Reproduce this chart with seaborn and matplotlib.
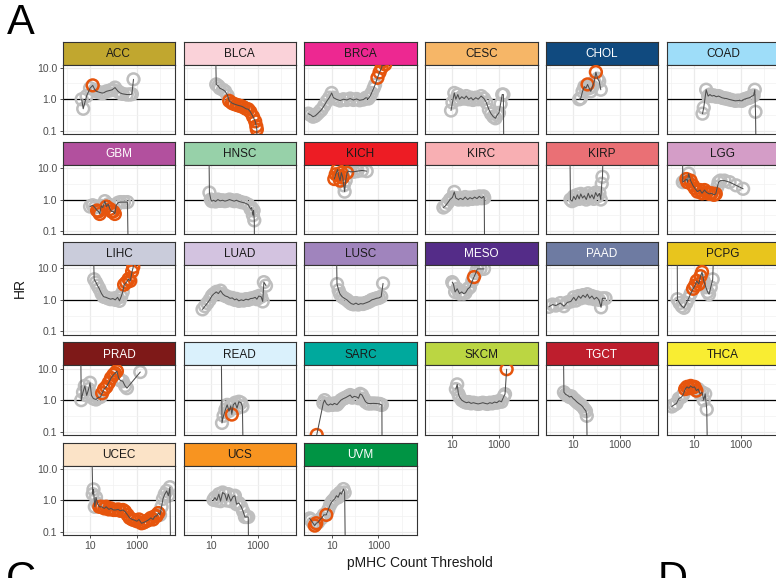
import matplotlib
matplotlib.use("Agg")
import matplotlib.pyplot as plt
from matplotlib.ticker import NullFormatter
import pandas as pd
import seaborn as sns

# ---------------------------------------------------------------- data
CANCERS = ["ACC", "BLCA", "BRCA", "CESC", "CHOL", "COAD",
           "GBM", "HNSC", "KICH", "KIRC", "KIRP", "LGG",
           "LIHC", "LUAD", "LUSC", "MESO", "PAAD", "PCPG",
           "PRAD", "READ", "SARC", "SKCM", "TGCT", "THCA",
           "UCEC", "UCS", "UVM"]

STRIP_COLORS = ["#C1A72F", "#FAD2D9", "#ED2891", "#F6B667", "#104A7F", "#9EDDF9",
                "#B2509E", "#97D1A9", "#ED1C24", "#F8AFB3", "#EA7075", "#D49DC7",
                "#CACCDB", "#D3C3E0", "#A084BD", "#542C88", "#6E7BA2", "#E8C51D",
                "#7E1918", "#DAF1FC", "#00A99D", "#BBD642", "#BE1E2D", "#F9ED32",
                "#FBE3C7", "#F89420", "#009444"]
WHITE_LABELS = ["GBM", "CHOL", "MESO", "PAAD", "PRAD", "TGCT", "UVM"]

ACC_THR = [4.4, 5.1, 7.1, 10, 13, 16, 19, 25, 32, 37, 50, 72, 89, 117, 158, 195, 251, 372, 501, 617, 724]
ACC_HR = [1.0, 0.50, 1.26, 2.24, 2.75, 2.0, 1.78, 1.66, 1.58, 1.58, 1.78, 1.91, 2.0, 2.34, 1.78, 1.58, 1.48, 1.41, 1.41, 1.45, 4.27]
ACC_SIG = [0, 0, 0, 0, 1, 0, 0, 0, 0, 0, 0, 0, 0, 0, 0, 0, 0, 0, 0, 0, 0]

BLCA_THR = [16, 17, 21, 24, 33, 41, 52, 61, 80, 98, 130, 160, 205, 250, 320, 400, 490, 640, 790, 880, 930, 950]
BLCA_HR = [40, 2.95, 2.63, 2.24, 2.0, 1.78, 1.32, 0.89, 0.76, 0.71, 0.66, 0.63, 0.60, 0.56, 0.50, 0.48, 0.40, 0.28, 0.20, 0.14, 0.11, 0.01]
BLCA_SIG = [0, 0, 0, 0, 0, 0, 0, 1, 1, 1, 1, 1, 1, 1, 1, 1, 1, 1, 1, 1, 1, 0]

BRCA_THR = [1, 1.26, 1.6, 2, 2.5, 3.2, 3.7, 4.8, 6.2, 7.9, 10, 12, 16, 23, 32, 45, 62, 85, 117, 158,
            229, 295, 372, 447, 513, 631, 724, 912, 1122, 1380, 1585, 1660, 1950]
BRCA_HR = [0.35, 0.32, 0.28, 0.30, 0.35, 0.42, 0.47, 0.63, 0.87, 1.12, 1.58, 1.12, 1.0, 0.91, 1.0, 0.95, 1.05, 0.95, 1.02, 0.93,
           0.98, 1.12, 1.05, 1.26, 1.58, 2.24, 2.88, 4.79, 7.08, 10, 15.8, 20, 12.6]
BRCA_SIG = [0] * 27 + [1, 1, 1, 1, 1, 1]

CESC_THR = [8.7, 10, 12, 14, 17, 20, 25, 32, 39, 50, 63, 76, 100, 126, 170, 224, 282, 363, 447, 562,
            692, 832, 977, 1148, 1349, 1514, 1585]
CESC_HR = [0.44, 0.79, 1.58, 1.0, 1.41, 1.0, 1.2, 1.05, 1.26, 1.0, 1.12, 0.95, 1.12, 1.0, 1.26, 1.05, 0.79, 0.47, 0.35, 0.28,
           0.25, 0.32, 0.37, 0.71, 1.41, 1.41, 0.01]
CESC_SIG = [0] * 27

CHOL_THR = [18, 21, 25, 30, 35, 41, 48, 56, 66, 79, 93, 110, 129, 151]
CHOL_HR = [1.0, 1.07, 1.78, 2.51, 2.24, 2.95, 2.24, 1.78, 2.51, 3.55, 7.24, 4.47, 3.72, 2.0]
CHOL_SIG = [0, 0, 0, 0, 0, 1, 0, 0, 0, 0, 1, 0, 0, 0]

COAD_THR = [23, 26, 33, 40, 48, 58, 71, 89, 112, 155, 200, 251, 302, 398, 575, 794, 1122, 1413, 1862, 2399,
            3020, 3548, 3981, 4266, 4571]
COAD_HR = [0.35, 0.54, 2.0, 1.26, 1.41, 1.26, 1.32, 1.2, 1.26, 1.12, 1.07, 1.05, 1.0, 0.95, 0.89, 0.91, 0.89, 1.0, 1.07, 1.12,
           1.26, 1.32, 2.0, 0.40, 0.01]
COAD_SIG = [0] * 25

GBM_THR = [10, 13, 16, 20, 23, 26, 30, 35, 43, 50, 60, 71, 83, 98, 115, 132, 158, 200, 282, 398, 437]
GBM_HR = [0.60, 0.66, 0.56, 0.45, 0.42, 0.35, 0.63, 0.56, 0.89, 0.60, 0.71, 0.50, 0.42, 0.42, 0.35, 0.66, 0.79, 0.83, 0.83, 0.83, 0.01]
GBM_SIG = [0, 0, 0, 1, 1, 1, 0, 0, 0, 1, 0, 1, 1, 1, 1, 0, 0, 0, 0, 0, 0]

HNSC_THR = [8.3, 8.7, 10, 11, 13, 16, 20, 25, 32, 40, 50, 63, 76, 100, 126, 148, 200, 288, 398, 501,
            550, 631, 676, 724, 741]
HNSC_HR = [40, 1.66, 1.0, 0.89, 0.95, 0.87, 1.0, 0.91, 0.95, 0.89, 0.93, 1.0, 0.95, 0.89, 0.95, 0.89, 0.83, 0.78, 0.69, 0.50,
           0.56, 0.32, 0.45, 0.22, 0.01]
HNSC_SIG = [0] * 25

KICH_THR = [13, 15, 18, 20, 23, 26, 30, 33, 36, 40, 46, 52, 63, 89, 126, 200, 316]
KICH_HR = [4.47, 6.31, 8.91, 5.62, 3.98, 7.08, 5.01, 2.82, 1.78, 3.98, 7.08, 7.94, 7.59, 7.59, 7.94, 8.32, 7.94]
KICH_SIG = [1, 1, 1, 1, 1, 1, 1, 0, 0, 0, 1, 0, 0, 0, 0, 0, 0]

KIRC_THR = [4.1, 5.0, 6.3, 7.9, 10, 12, 14, 18, 22, 28, 35, 45, 56, 71, 89, 112, 141, 178, 214, 229, 240]
KIRC_HR = [0.56, 0.63, 0.79, 1.0, 1.17, 1.74, 1.12, 1.0, 1.1, 1.0, 1.2, 1.0, 1.15, 1.05, 1.2, 1.07, 1.26, 1.1, 1.26, 1.12, 0.01]
KIRC_SIG = [0] * 21

KIRP_THR = [7.2, 7.6, 8.9, 10.5, 12.6, 15, 18, 21, 25, 30, 36, 44, 52, 63, 76, 91, 110, 132, 151, 166, 178, 191]
KIRP_HR = [40, 1.0, 0.89, 1.26, 1.0, 1.41, 1.05, 1.51, 1.12, 1.32, 1.0, 1.58, 1.12, 1.41, 1.05, 1.66, 1.26, 1.58, 1.0, 3.16, 5.25, 40]
KIRP_SIG = [0] * 22

LGG_THR = [3.2, 3.3, 4.0, 4.7, 5.2, 5.9, 7.1, 8.9, 11, 14, 18, 22, 28, 35, 45, 56, 71, 85, 100, 112,
           135, 200, 331, 631, 1259]
LGG_HR = [40, 3.55, 3.98, 4.47, 3.55, 6.61, 3.98, 2.82, 2.24, 1.78, 2.0, 1.58, 2.0, 1.66, 1.51, 1.58, 1.41, 1.51, 2.51, 3.55,
          3.98, 3.98, 3.55, 2.82, 2.19]
LGG_SIG = [0, 0, 0, 1, 1, 0] + [1] * 12 + [0] * 7

LIHC_THR = [14, 15, 18, 21, 25, 31, 38, 48, 60, 76, 95, 120, 151, 182, 214, 251, 288, 355, 447, 525, 631, 708, 759]
LIHC_HR = [40, 4.47, 3.55, 2.82, 2.24, 1.58, 1.26, 1.2, 1.12, 1.05, 1.1, 1.0, 1.2, 0.93, 1.26, 1.78, 3.02, 3.55, 4.57, 3.98,
           7.94, 11.0, 40]
LIHC_SIG = [0] * 16 + [1] * 6 + [0]

LUAD_THR = [4.4, 5.6, 7.1, 8.9, 11, 13, 17, 21, 26, 33, 42, 52, 66, 83, 105, 126, 158, 200, 251, 316,
            398, 501, 631, 794, 933, 1122, 1413, 1660, 1862, 2291]
LUAD_HR = [0.50, 0.63, 0.79, 1.0, 1.32, 1.51, 1.78, 1.58, 1.95, 1.51, 1.32, 1.26, 1.12, 1.15, 1.0, 1.07, 0.93, 1.0, 0.95, 1.05,
           1.0, 1.1, 1.12, 1.2, 1.05, 1.32, 1.26, 0.89, 3.63, 2.82]
LUAD_SIG = [0] * 30

LUSC_THR = [16, 17, 20, 23, 28, 35, 45, 55, 69, 87, 110, 138, 174, 219, 275, 331, 417, 525, 661, 832, 1047, 1318, 1585]
LUSC_HR = [40, 3.16, 2.0, 1.51, 1.26, 1.12, 1.0, 0.87, 0.76, 0.72, 0.79, 0.71, 0.76, 0.74, 0.79, 0.83, 0.89, 1.0, 1.05, 1.12,
           1.15, 1.26, 3.31]
LUSC_SIG = [0] * 23

MESO_THR = [9.8, 11, 13, 16, 20, 25, 30, 36, 46, 56, 71, 83, 100, 115, 158, 224]
MESO_HR = [3.63, 3.16, 1.78, 2.24, 1.58, 1.78, 1.58, 1.66, 2.24, 2.51, 3.98, 5.25, 7.08, 9.55, 9.55, 9.55]
MESO_SIG = [0] * 11 + [1] + [0] * 4

PAAD_THR = [0.9, 1.3, 1.8, 2.8, 4.0, 5.6, 7.9, 10.5, 13, 17, 21, 26, 33, 40, 50, 63, 79, 100, 126, 155, 178, 240]
PAAD_HR = [0.60, 0.71, 0.66, 0.79, 0.63, 0.83, 0.89, 1.2, 0.95, 1.32, 1.12, 1.41, 1.2, 1.51, 1.12, 1.32, 1.05, 1.2, 1.0, 0.58,
           1.12, 1.12]
PAAD_SIG = [0] * 22

PCPG_THR = [1.9, 1.95, 2.4, 3.0, 3.7, 4.7, 5.9, 7.2, 9.1, 11, 13, 16, 19, 22, 26, 32, 38, 44, 52, 63, 69]
PCPG_HR = [40, 1.05, 0.79, 0.63, 0.56, 0.79, 1.12, 1.58, 2.24, 2.82, 3.98, 3.16, 5.62, 7.59, 3.98, 2.51, 1.78, 1.51, 2.51, 4.47, 40]
PCPG_SIG = [0] * 8 + [1] * 6 + [0] * 7

PRAD_THR = [4.0, 4.2, 5.0, 6.0, 7.2, 8.7, 10, 11.5, 14, 18, 22, 28, 33, 40, 50, 63, 79, 100, 117, 141,
            166, 200, 251, 316, 380, 1413]
PRAD_HR = [40, 1.0, 1.78, 2.82, 1.41, 2.24, 3.55, 1.41, 1.12, 1.05, 1.2, 1.26, 1.66, 2.24, 2.63, 3.55, 5.01, 6.31, 7.08, 8.32,
           5.01, 4.17, 3.98, 2.82, 2.40, 7.76]
PRAD_SIG = [0] * 12 + [1] * 8 + [0] * 6

READ_THR = [28, 30, 35, 42, 50, 60, 71, 79, 91, 110, 132, 158, 195, 224, 245]
READ_HR = [40, 0.19, 0.32, 0.50, 0.71, 0.45, 0.66, 0.35, 0.71, 0.83, 0.56, 0.89, 0.83, 0.63, 0.01]
READ_SIG = [0] * 7 + [1] + [0] * 7

SARC_THR = [2.3, 4.4, 5.0, 6.0, 7.2, 8.9, 11, 13, 17, 20, 25, 32, 40, 50, 62, 76, 93, 117, 141, 166,
            200, 240, 282, 355, 447, 603, 851, 1122, 1259, 1413, 1445]
SARC_HR = [0.079, 0.81, 1.0, 0.76, 0.69, 0.76, 0.71, 0.79, 0.72, 0.83, 1.0, 1.12, 1.2, 1.32, 1.45, 1.2, 1.32, 1.26, 1.15, 1.58,
           1.45, 1.12, 0.89, 0.79, 0.78, 0.79, 0.78, 0.76, 0.72, 0.71, 0.01]
SARC_SIG = [1] + [0] * 30

SKCM_THR = [14, 16, 18, 20, 25, 32, 40, 50, 63, 79, 100, 126, 158, 200, 251, 316, 398, 501, 631, 794,
            1000, 1259, 1585, 1778, 2089]
SKCM_HR = [2.24, 3.16, 1.58, 1.26, 1.0, 0.89, 0.83, 0.87, 0.79, 0.83, 0.79, 0.76, 0.79, 0.83, 0.79, 0.76, 0.83, 0.79, 0.87, 0.83,
           0.95, 0.89, 1.32, 1.55, 9.55]
SKCM_SIG = [0] * 24 + [1]

TGCT_THR = [3.8, 4.0, 4.8, 5.8, 6.9, 8.3, 10, 12, 14, 17, 21, 25, 30, 35, 38, 40]
TGCT_HR = [40, 1.78, 1.51, 1.41, 1.26, 1.32, 1.12, 1.0, 0.89, 0.79, 0.71, 0.63, 0.52, 0.45, 0.32, 0.01]
TGCT_SIG = [0] * 16

THCA_THR = [1.12, 1.41, 1.78, 2.24, 2.95, 3.55, 4.17, 5.0, 6.0, 7.2, 8.7, 10.5, 12.6, 15, 18, 22, 26, 30, 35, 38]
THCA_HR = [0.63, 0.71, 0.79, 1.12, 1.26, 1.58, 2.24, 2.63, 2.40, 2.82, 2.51, 2.63, 2.0, 2.24, 1.58, 1.78, 1.0, 1.58, 0.51, 0.01]
THCA_SIG = [0] * 6 + [1] * 7 + [0] * 7

UCEC_THR = [12, 13, 14, 16, 18, 21, 25, 31, 41, 49, 64, 78, 101, 124, 160, 198, 255, 310, 402, 495,
            640, 780, 1010, 1240, 1600, 1970, 2530, 3120, 4010, 4950, 6050, 7020, 8400, 9900, 11500, 13200,
            15800, 19100, 22400, 26300, 28200]
UCEC_HR = [40, 1.58, 2.24, 0.63, 1.26, 0.79, 0.63, 0.63, 0.56, 0.63, 0.52, 0.56, 0.50, 0.50, 0.52, 0.47, 0.50, 0.45, 0.35, 0.28,
           0.25, 0.24, 0.22, 0.25, 0.19, 0.20, 0.22, 0.24, 0.28, 0.25, 0.32, 0.32, 0.40, 0.35, 0.63, 1.12,
           1.58, 2.0, 1.41, 2.63, 0.01]
UCEC_SIG = [0] * 6 + [1] * 27 + [0] * 8

UCS_THR = [13, 15, 18, 22, 26, 32, 40, 48, 56, 71, 89, 107, 126, 158, 200, 240, 288, 339, 398, 417]
UCS_HR = [1.05, 1.23, 1.0, 1.58, 0.95, 1.78, 1.58, 1.0, 1.58, 0.95, 1.32, 1.41, 0.76, 0.83, 0.63, 0.45, 0.30, 0.30, 0.30, 0.01]
UCS_SIG = [0] * 20

UVM_THR = [1.15, 1.3, 1.6, 1.9, 2.2, 2.6, 3.2, 3.8, 4.6, 5.9, 7.1, 8.5, 10, 11.5, 13.5, 16, 19, 23, 26, 32, 36, 39]
UVM_HR = [0.27, 0.24, 0.19, 0.16, 0.19, 0.20, 0.25, 0.28, 0.35, 0.35, 0.50, 0.71, 0.89, 1.0, 1.12, 1.41, 1.26, 1.78, 1.58, 2.29,
          1.78, 0.01]
UVM_SIG = [0, 0, 0, 1, 1, 0, 0, 0, 0, 1] + [0] * 12

X_TICKS = [10, 1000]
X_TICK_LABELS = ["10", "1000"]
Y_TICKS = [0.1, 1, 10]
Y_TICK_LABELS = ["0.1", "1.0", "10.0"]

# ---------------------------------------------------------------- long table
series = {name: (globals()[name + "_THR"], globals()[name + "_HR"], globals()[name + "_SIG"])
          for name in CANCERS}
frames = []
for name, (thr, hr, sig) in series.items():
    frames.append(pd.DataFrame({"cancer": name, "threshold": thr, "HR": hr, "significant": sig}))
df = pd.concat(frames, ignore_index=True)

# ---------------------------------------------------------------- style
sns.set_theme(style="white")
plt.rcParams["font.family"] = ["Liberation Sans", "DejaVu Sans"]

GRAY = "#BEBEBE"
ORANGE = "#E6550D"
LINE = "#4D4D4D"
FRAME = "#333333"

W, H = 776, 578
fig = plt.figure(figsize=(W / 100, H / 100), dpi=100)


def fig_rect(x, y, w, h):
    """Pixel box (top-left origin) -> figure fraction rectangle."""
    return [x / W, 1 - (y + h) / H, w / W, h / H]


COL_X0, COL_STEP, PANEL_W = 62.7, 120.8, 112.4
ROW_Y0, ROW_STEP, STRIP_H, PANEL_H = 41.5, 100.3, 23.0, 69.5
XLIM = (10 ** -0.17, 10 ** 4.64)
YLIM = (10 ** -1.1, 10 ** 1.1)

bottom_panels = {21, 22, 23, 24, 25, 26}

for i, name in enumerate(CANCERS):
    r, c = divmod(i, 6)
    x = COL_X0 + c * COL_STEP
    y = ROW_Y0 + r * ROW_STEP

    # strip
    sax = fig.add_axes(fig_rect(x, y, PANEL_W, STRIP_H))
    sax.set_facecolor(STRIP_COLORS[i])
    sax.set_xticks([])
    sax.set_yticks([])
    for sp in sax.spines.values():
        sp.set_color(FRAME)
        sp.set_linewidth(0.8)
    sax.text(0.5, 0.47, name, ha="center", va="center", fontsize=8.5,
             color="white" if name in WHITE_LABELS else "#1A1A1A", transform=sax.transAxes)

    # panel
    ax = fig.add_axes(fig_rect(x, y + STRIP_H, PANEL_W, PANEL_H))
    ax.set_xscale("log")
    ax.set_yscale("log")
    ax.set_facecolor("white")

    sub = df[df["cancer"] == name]
    ax.axhline(1, color="black", linewidth=0.9, zorder=1)
    sns.scatterplot(data=sub[sub["significant"] == 0], x="threshold", y="HR", ax=ax,
                    s=72, color=GRAY, edgecolor=GRAY, facecolor="none", linewidth=1.8,
                    zorder=2, legend=False)
    sns.scatterplot(data=sub[sub["significant"] == 1], x="threshold", y="HR", ax=ax,
                    s=72, color=ORANGE, edgecolor=ORANGE, facecolor="none", linewidth=1.8,
                    zorder=3, legend=False)
    sns.lineplot(data=sub, x="threshold", y="HR", ax=ax, sort=False, estimator=None,
                 color=LINE, linewidth=0.75, zorder=4, legend=False)
    ax.set_xlabel("")
    ax.set_ylabel("")
    ax.set_xlim(*XLIM)
    ax.set_ylim(*YLIM)

    ax.set_xticks(X_TICKS)
    ax.set_xticks([1, 100, 10000], minor=True)
    ax.set_yticks(Y_TICKS)
    ax.set_yticks([10 ** -0.5, 10 ** 0.5], minor=True)
    ax.set_xticklabels(X_TICK_LABELS)
    ax.set_yticklabels(Y_TICK_LABELS)
    ax.xaxis.set_minor_formatter(NullFormatter())
    ax.yaxis.set_minor_formatter(NullFormatter())
    ax.grid(which="major", color="#EBEBEB", linewidth=0.9)
    ax.grid(which="minor", color="#F2F2F2", linewidth=0.5)
    ax.set_axisbelow(True)

    show_x = i in bottom_panels
    show_y = c == 0
    ax.tick_params(axis="x", which="major", bottom=True, length=2.5 if show_x else 0, width=0.6,
                   color=FRAME, labelsize=7.5, labelcolor="#4D4D4D", pad=1.5, labelbottom=show_x)
    ax.tick_params(axis="y", which="major", left=True, length=2.5 if show_y else 0, width=0.6,
                   color=FRAME, labelsize=7.5, labelcolor="#4D4D4D", pad=1.5, labelleft=show_y)
    ax.tick_params(which="minor", length=0, labelbottom=False, labelleft=False)
    for sp in ax.spines.values():
        sp.set_color(FRAME)
        sp.set_linewidth(0.8)

fig.text(420 / W, 1 - 563 / H, "pMHC Count Threshold", ha="center", va="center",
         fontsize=10, color="#1A1A1A")
fig.text(20 / W, 1 - 288 / H, "HR", ha="center", va="center", rotation=90,
         fontsize=10, color="#1A1A1A")
fig.text(7 / W, 1 - 23 / H, "A", ha="left", va="center", fontsize=30, color="black")
fig.text(6 / W, 1 - 560 / H, "C", ha="left", va="top", fontsize=30, color="black")
fig.text(658 / W, 1 - 560 / H, "D", ha="left", va="top", fontsize=30, color="black")

fig.savefig("out.png", dpi=100)
